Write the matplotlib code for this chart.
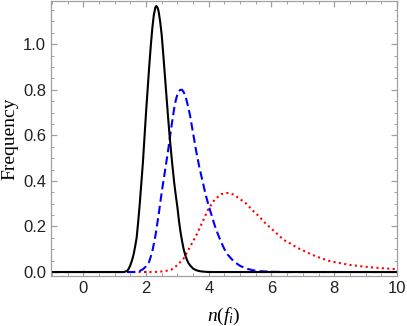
import matplotlib
matplotlib.use("Agg")
import matplotlib.pyplot as plt
from matplotlib.ticker import MultipleLocator

plt.rcParams["mathtext.fontset"] = "custom"
plt.rcParams["mathtext.rm"] = "Liberation Serif"
plt.rcParams["mathtext.it"] = "Liberation Serif:italic"

# values
x_black = [-1.0, 1.0, 1.3, 1.4, 1.45, 1.5, 1.55, 1.6, 1.65, 1.7, 1.75, 1.8, 1.85, 1.9,
           1.95, 2.0, 2.05, 2.1, 2.15, 2.2, 2.25, 2.3, 2.33, 2.37, 2.4, 2.45, 2.5, 2.55,
           2.6, 2.65, 2.7, 2.75, 2.8, 2.85, 2.9, 2.95, 3.0, 3.05, 3.1, 3.15, 3.2, 3.25,
           3.3, 3.35, 3.4, 3.5, 3.6, 3.7, 3.8, 4.0, 10.0]
y_black = [0.0, 0.0, 0.0, 0.005, 0.015, 0.03, 0.05, 0.075, 0.11, 0.15, 0.22, 0.30, 0.39,
           0.48, 0.59, 0.70, 0.80, 0.90, 0.99, 1.07, 1.13, 1.163, 1.168, 1.16, 1.145,
           1.10, 1.04, 0.955, 0.865, 0.775, 0.685, 0.60, 0.525, 0.455, 0.39, 0.335,
           0.285, 0.225, 0.175, 0.135, 0.10, 0.075, 0.055, 0.04, 0.03, 0.015, 0.008,
           0.004, 0.002, 0.0, 0.0]

x_blue = [-1.0, 1.6, 1.7, 1.8, 1.9, 2.0, 2.1, 2.2, 2.3, 2.4, 2.5, 2.6, 2.7, 2.8, 2.9,
          2.95, 3.0, 3.05, 3.1, 3.15, 3.2, 3.25, 3.3, 3.4, 3.5, 3.6, 3.7, 3.8, 3.9, 4.0,
          4.1, 4.2, 4.3, 4.4, 4.5, 4.6, 4.8, 5.0, 5.2, 5.4, 5.6, 6.0, 6.5, 10.0]
y_blue = [0.0, 0.0, 0.002, 0.005, 0.012, 0.025, 0.045, 0.09, 0.16, 0.25, 0.35, 0.44,
          0.53, 0.63, 0.72, 0.755, 0.78, 0.795, 0.80, 0.80, 0.79, 0.775, 0.75, 0.69,
          0.61, 0.53, 0.46, 0.40, 0.34, 0.29, 0.245, 0.20, 0.163, 0.13, 0.10, 0.077,
          0.046, 0.027, 0.015, 0.008, 0.004, 0.001, 0.0, 0.0]

x_red = [-1.0, 2.2, 2.4, 2.6, 2.8, 3.0, 3.2, 3.4, 3.6, 3.8, 4.0, 4.2, 4.4, 4.6, 4.8,
         5.0, 5.2, 5.4, 5.6, 5.8, 6.0, 6.2, 6.4, 6.6, 6.8, 7.0, 7.2, 7.4, 7.6, 7.8,
         8.0, 8.5, 9.0, 9.5, 10.0]
y_red = [0.0, 0.0, 0.001, 0.004, 0.01, 0.03, 0.06, 0.11, 0.16, 0.22, 0.28, 0.32, 0.342,
         0.347, 0.34, 0.32, 0.30, 0.27, 0.245, 0.215, 0.19, 0.165, 0.14, 0.125, 0.108,
         0.095, 0.082, 0.07, 0.06, 0.05, 0.044, 0.031, 0.023, 0.017, 0.012]

x_ticks = [0, 2, 4, 6, 8, 10]
y_ticks = [0.0, 0.2, 0.4, 0.6, 0.8, 1.0]

fig = plt.figure(figsize=(4.07, 3.26), dpi=100)
ax = fig.add_axes([0.1253, 0.153, 0.85, 0.844])

ax.plot(x_red, y_red, color="red", lw=1.5, linestyle=(0, (1, 1.6)))
ax.plot(x_blue, y_blue, color="blue", lw=1.5, linestyle=(0, (4, 2)))
ax.plot(x_black, y_black, color="black", lw=1.5)

ax.set_xlim(-1.03, 10)
ax.set_ylim(-0.018, 1.19)
ax.set_xticks(x_ticks)
ax.set_yticks(y_ticks)
ax.set_xticklabels([str(t) for t in x_ticks])
ax.set_yticklabels([f"{t:.1f}" for t in y_ticks])
ax.xaxis.set_minor_locator(MultipleLocator(0.5))
ax.yaxis.set_minor_locator(MultipleLocator(0.05))

frame = "#a0a0a0"
for s in ax.spines.values():
    s.set_color(frame)
    s.set_linewidth(0.9)
ax.tick_params(which="both", direction="in", top=True, right=True, color=frame,
               labelsize=12, labelcolor="#222222")
ax.tick_params(which="major", length=4, width=0.9)
ax.tick_params(which="minor", length=2.2, width=0.7)
for lab in ax.get_xticklabels() + ax.get_yticklabels():
    lab.set_family("Liberation Sans")

ax.set_xlabel(r"$n(f_i)$", fontsize=14, labelpad=7)
ax.set_ylabel("Frequency", fontsize=14, family="Liberation Serif", labelpad=3)

fig.savefig("out.png", dpi=100)
